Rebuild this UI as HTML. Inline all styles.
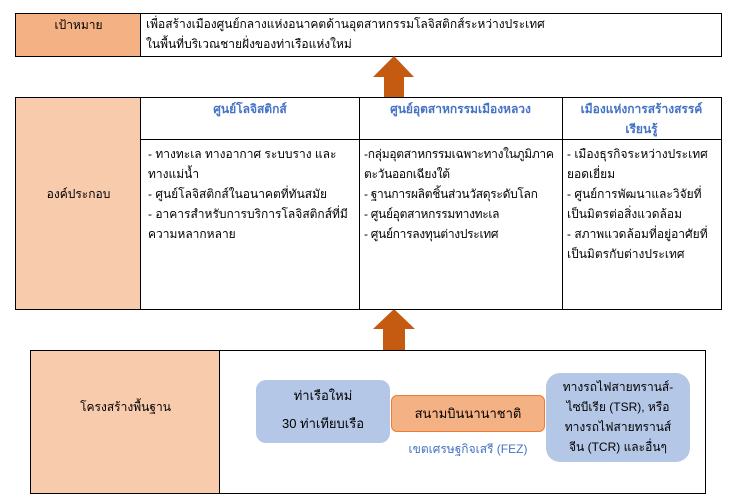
<!DOCTYPE html>
<html><head><meta charset="utf-8"><style>
body{margin:0;width:734px;height:503px;background:#fff;font-family:"Liberation Sans",sans-serif;font-size:12px;color:#000;position:relative;overflow:hidden}
div{position:absolute;box-sizing:border-box}
.b{border:1px solid #000}
.blue{color:#4472c4;text-align:center}
.c{text-align:center}
.t{line-height:20px}
</style></head><body>
<div class="b" style="left:15px;top:13px;width:707px;height:44px;border-width:1.5px"></div>
<div style="left:16px;top:14px;width:125px;height:42px;background:#f4b183;border-right:1px solid #000"></div>
<div class="c" style="left:16px;top:16px;width:125px">เป้าหมาย</div>
<div class="t" style="left:146px;top:14px;width:570px">เพื่อสร้างเมืองศูนย์กลางแห่งอนาคตด้านอุตสาหกรรมโลจิสติกส์ระหว่างประเทศ<br>ในพื้นที่บริเวณชายฝั่งของท่าเรือแห่งใหม่</div>

<svg style="position:absolute;left:0;top:0" width="734" height="503">
<polygon points="394,56 414,77 404,77 404,97 384,97 384,77 373,77" fill="#c55a11"/>
<polygon points="394,309 415,329 405,329 405,350 383,350 383,329 373,329" fill="#c55a11"/>
</svg>

<div class="b" style="left:15px;top:97px;width:707px;height:213px;border-width:1.5px"></div>
<div style="left:16px;top:98px;width:125px;height:211px;background:#f8cbad;border-right:1px solid #000"></div>
<div class="c" style="left:16px;top:185px;width:125px">องค์ประกอบ</div>
<div style="left:359px;top:98px;width:1px;height:211px;background:#000"></div>
<div style="left:562px;top:98px;width:1px;height:211px;background:#000"></div>
<div style="left:141px;top:139px;width:580px;height:1px;background:#000"></div>
<div class="blue t" style="left:141px;top:99px;width:218px;font-weight:bold">ศูนย์โลจิสติกส์</div>
<div class="blue t" style="left:359px;top:99px;width:203px;font-weight:bold">ศูนย์อุตสาหกรรมเมืองหลวง</div>
<div class="blue t" style="left:562px;top:99px;width:159px;font-weight:bold">เมืองแห่งการสร้างสรรค์<br>เรียนรู้</div>
<div class="t" style="left:148px;top:144px;width:208px">- ทางทะเล ทางอากาศ ระบบราง และทางแม่น้ำ<br>- ศูนย์โลจิสติกส์ในอนาคตที่ทันสมัย<br>- อาคารสำหรับการบริการโลจิสติกส์ที่มีความหลากหลาย</div>
<div class="t" style="left:364px;top:144px;width:198px;letter-spacing:-0.3px">-กลุ่มอุตสาหกรรมเฉพาะทางในภูมิภาค<br>ตะวันออกเฉียงใต้<br>- ฐานการผลิตชิ้นส่วนวัสดุระดับโลก<br>- ศูนย์อุตสาหกรรมทางทะเล<br>- ศูนย์การลงทุนต่างประเทศ</div>
<div class="t" style="left:567px;top:144px;width:152px">- เมืองธุรกิจระหว่างประเทศยอดเยี่ยม<br>- ศูนย์การพัฒนาและวิจัยที่เป็นมิตรต่อสิ่งแวดล้อม<br>- สภาพแวดล้อมที่อยู่อาศัยที่เป็นมิตรกับต่างประเทศ</div>

<div class="b" style="left:30px;top:350px;width:676px;height:144px;border-width:1.5px"></div>
<div style="left:31px;top:351px;width:189px;height:142px;background:#f8cbad;border-right:1px solid #000"></div>
<div class="c" style="left:31px;top:398px;width:189px">โครงสร้างพื้นฐาน</div>
<div class="c t" style="left:256px;top:380px;width:134px;height:63px;background:#b4c7e7;border-radius:10px;padding-top:2px;font-size:13px;line-height:28px">ท่าเรือใหม่<br>30 ท่าเทียบเรือ</div>
<div class="c" style="left:391px;top:395px;width:154px;height:37px;background:#f4b183;border:1px solid #ed7d31;border-radius:6px;line-height:35px;font-size:13px">สนามบินนานาชาติ</div>
<div class="blue" style="left:391px;top:440px;width:154px">เขตเศรษฐกิจเสรี (FEZ)</div>
<div class="c t" style="left:546px;top:373px;width:144px;height:89px;background:#b4c7e7;border-radius:14px;padding-top:4px">ทางรถไฟสายทรานส์-<br>ไซบีเรีย (TSR), หรือ<br>ทางรถไฟสายทรานส์<br>จีน (TCR) และอื่นๆ</div>
</body></html>
